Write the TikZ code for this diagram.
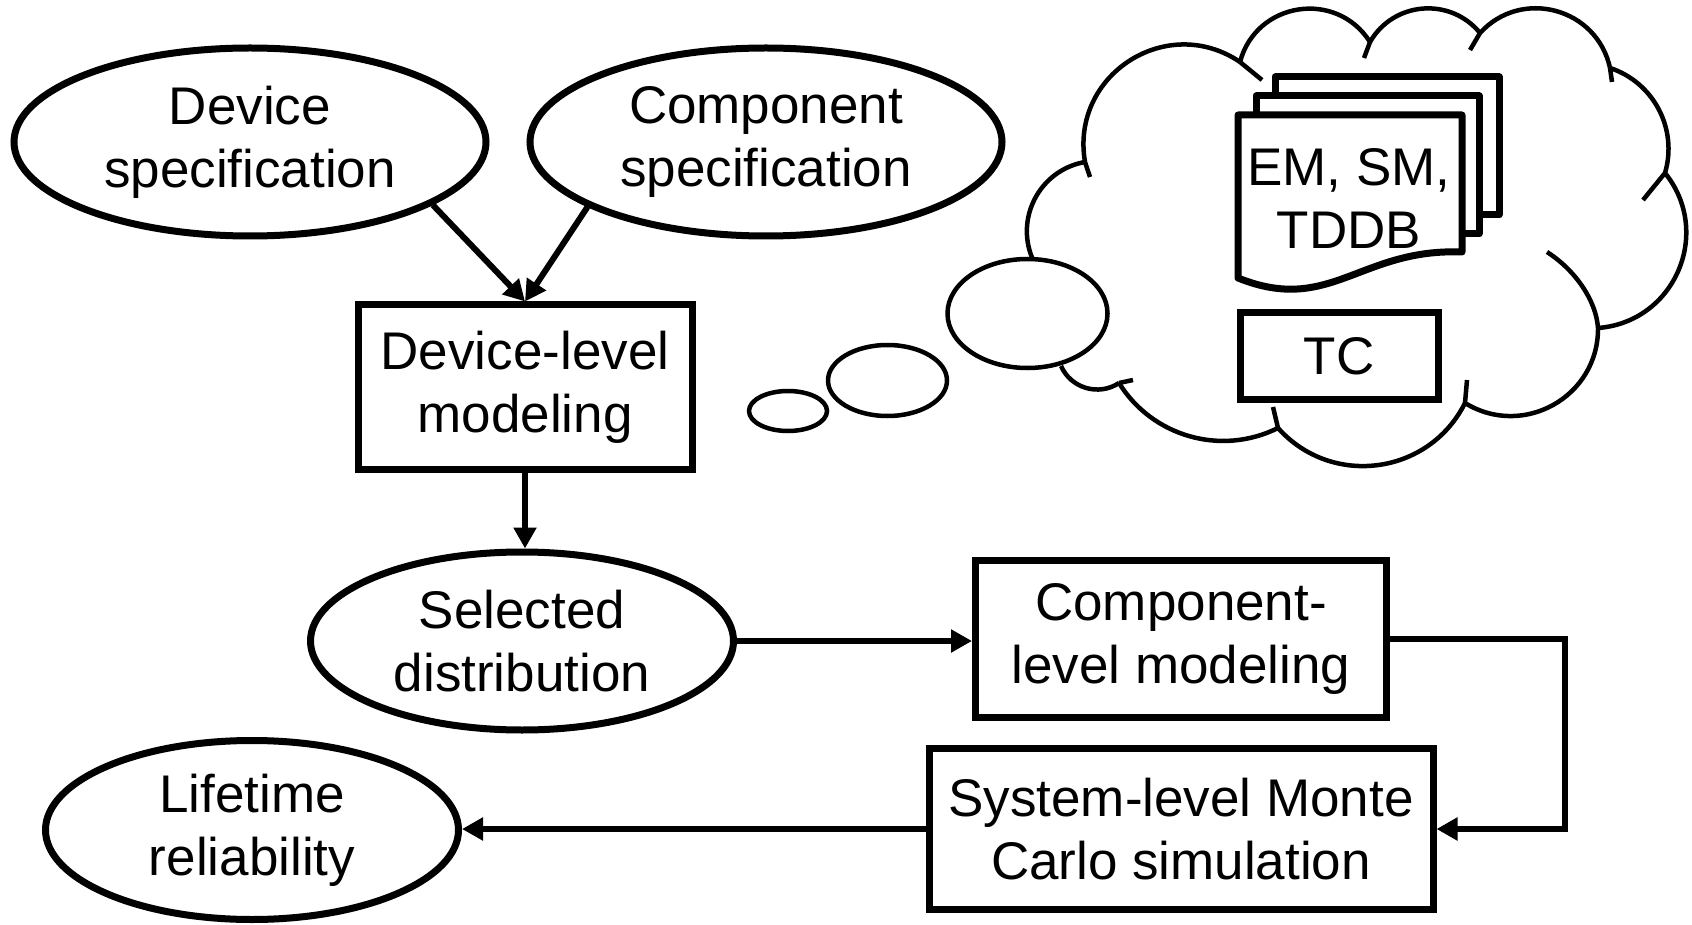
\documentclass[tikz,border=0pt]{standalone}
\usepackage{fontspec}
\setmainfont{Liberation Sans}
\usetikzlibrary{shapes.geometric,arrows.meta,calc}
\newcommand{\bigfont}{\fontsize{53}{63}\selectfont}

\begin{document}
\begin{tikzpicture}[x=1pt, y=-1pt]
            % Styles for the flow chart and the thought cloud
            \tikzset{
                spec/.style={ellipse, draw, line width=7pt, inner sep=0pt, align=center, font=\bigfont},
                block/.style={rectangle, draw, line width=7pt, inner sep=0pt, align=center, font=\bigfont},
                flow/.style={-{Triangle[length=21pt, width=22pt]}, line width=6pt},
                puff/.style={line width=4.5pt},
                bubble/.style={ellipse, draw, fill=white, line width=4.5pt, inner sep=0pt},
                page/.style={draw, fill=white, line width=7pt, line join=round}
            }
            \useasboundingbox (0,0) rectangle (1692,925);

            % Cloud outline: one circular puff between two junctions, h = bulge
            \foreach \ax/\ay/\bx/\by/\h in {
                1034/262/1085/162/28,
                1085/162/1240/62/61,
                1240/62/1370/42/43,
                1370/42/1480/33/29,
                1480/33/1610/68/41,
                1610/68/1665/173/24,
                1665/173/1598/328/51,
                1598/328/1465/403/45,
                1465/403/1278/428/50,
                1278/428/1119/383/32,
                1119/383/1061/366/14%
            } {
                \pgfmathsetmacro\len{veclen(\bx-\ax,\by-\ay)}
                \pgfmathsetmacro\ang{2*atan(2*\h/\len)}
                \pgfmathsetmacro\ctl{4*\h/(3*sin(\ang))}
                \draw[puff] (\ax,\ay) .. controls ($(\ax,\ay)!\ctl pt!\ang:(\bx,\by)$) and ($(\bx,\by)!\ctl pt!-\ang:(\ax,\ay)$) .. (\bx,\by);
            }

            % Small inner hooks at the junctions
            \foreach \ax/\ay/\bx/\by in {
                1085/162/1090/177,
                1240/62/1262/80,
                1370/42/1364/58,
                1480/33/1470/50,
                1610/68/1612/82,
                1665/173/1643/200,
                1465/403/1467/380,
                1278/428/1273/407,
                1119/383/1133/380%
            } {
                \draw[puff] (\ax,\ay) -- (\bx,\by);
            }
            \draw[puff] (1547,252) .. controls (1575,270) and (1596,300) .. (1598,328);

            % Thought bubbles
            \node[bubble, minimum width=160pt, minimum height=109pt] (bigbub) at (1027.5,313.5) {};
            \node[bubble, minimum width=119pt, minimum height=71pt] (midbub) at (887.5,380.5) {};
            \node[bubble, minimum width=78pt, minimum height=40pt] (smallbub) at (788,411) {};

            % Stack of documents and the TC box
            \draw[page] (1275,77) rectangle (1499,215);
            \draw[page] (1256,96) rectangle (1479,234);
            \draw[page] (1238,115) -- (1462,115) -- (1462,252) .. controls (1360,248) and (1330,315) .. (1238,278) -- cycle;
            \node[font=\bigfont, align=center] (docs) at (1349,198) {EM, SM,\\TDDB};
            \node[block, minimum width=198pt, minimum height=86pt] (tc) at (1339,356) {TC};

            % Flow chart nodes
            \node[spec, minimum width=472pt, minimum height=188pt] (devspec) at (250,142) {Device\\specification};
            \node[spec, minimum width=472pt, minimum height=188pt] (compspec) at (766,142) {Component\\specification};
            \node[block, minimum width=334pt, minimum height=164pt] (devmodel) at (525,387) {Device-level\\modeling};
            \node[spec, minimum width=423pt, minimum height=178pt] (seldist) at (522,641) {Selected\\distribution};
            \node[block, minimum width=411pt, minimum height=157pt] (compmodel) at (1181,639) {Component-\\level modeling};
            \node[block, minimum width=504pt, minimum height=161pt] (sysmodel) at (1181,829) {System-level Monte\\Carlo simulation};
            \node[spec, minimum width=413pt, minimum height=179pt] (lifetime) at (252,830) {Lifetime\\reliability};

            % Arrows
            \draw[flow] (devspec.-19.5) -- (devmodel.north);
            \draw[flow] (compspec.-160.5) -- (devmodel.north);
            \draw[flow] (devmodel.south) -- (devmodel.south |- seldist.north);
            \draw[flow] (seldist.east) -- (seldist.east -| compmodel.west);
            \draw[flow] (compmodel.east) -- ++(175,0) |- (sysmodel.east);
            \draw[flow] (sysmodel.west) -- (sysmodel.west -| lifetime.east);
\end{tikzpicture}
\end{document}
